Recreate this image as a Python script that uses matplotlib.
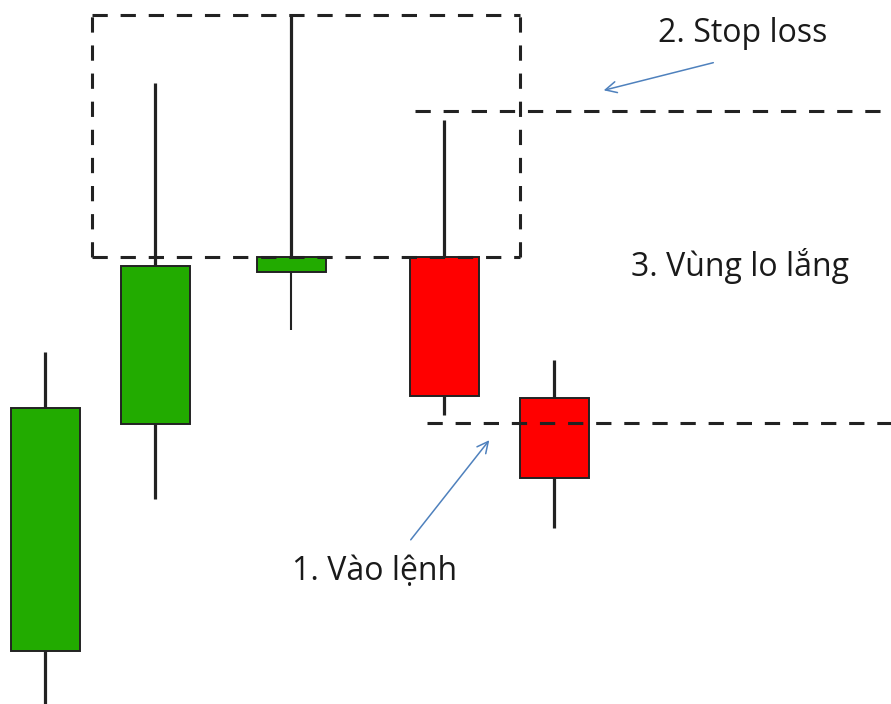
import matplotlib
matplotlib.use("Agg")
import matplotlib.pyplot as plt

# candle data (price units)
x_pos = [45, 155, 291, 444, 554]
opens = [5.3, 28.0, 43.2, 44.7, 30.6]
closes = [29.6, 43.8, 44.7, 30.8, 22.6]
highs = [35.2, 62.1, 68.9, 58.4, 34.4]
lows = [-1.0, 20.5, 37.4, 28.9, 17.6]

stop_loss = 59.3
entry = 28.1
box_top = 68.9
box_bottom = 44.7

labels = ["1. Vào lệnh", "2. Stop loss", "3. Vùng lo lắng"]

fig = plt.figure(figsize=(8.91, 7.04), dpi=100)
ax = fig.add_axes([0, 0, 1, 1])
ax.set_xlim(0, 891)
ax.set_ylim(0, 70.4)
ax.axis("off")

green = "#22ab00"
red = "#ff0000"
edge = "#222222"
width = 69

for i, x in enumerate(x_pos):
    o, c, h, l = opens[i], closes[i], highs[i], lows[i]
    top, bot = max(o, c), min(o, c)
    color = green if c >= o else red
    ax.vlines(x, top, h, color=edge, lw=2.3, zorder=2)
    lw_low = 1.5 if i == 2 else 2.3
    ax.vlines(x, l, bot, color=edge, lw=lw_low, zorder=2)
    ax.bar(x, top - bot, bottom=bot, width=width, color=color,
           edgecolor=edge, linewidth=1.4, zorder=3)

dash = dict(color=edge, lw=2.2, linestyle=(0, (5, 4.2)), zorder=4)
# box around the wicks
ax.plot([92, 520], [box_top, box_top], **dash)
ax.plot([92, 520], [box_bottom, box_bottom], **dash)
ax.plot([92, 92], [box_bottom, box_top], **dash)
ax.plot([520, 520], [box_bottom, box_top], **dash)
# stop loss and entry levels
ax.plot([415, 891], [stop_loss, stop_loss], **dash)
ax.plot([427, 891], [entry, entry], **dash)

arrow = dict(arrowstyle="->", color="#4f81bd", lw=1.1, mutation_scale=20)
font = dict(family="Open Sans", fontsize=23, color="#1a1a1a", ha="center", va="center")

ax.annotate("", xy=(491, 26.6), xytext=(409, 16.2), arrowprops=arrow)
ax.annotate("", xy=(601, 61.3), xytext=(716, 64.2), arrowprops=arrow)

ax.text(375, 13.2, labels[0], **font)
ax.text(743, 67.1, labels[1], **font)
ax.text(740, 43.8, labels[2], **font)

fig.savefig("out.png", dpi=100, facecolor="white")
